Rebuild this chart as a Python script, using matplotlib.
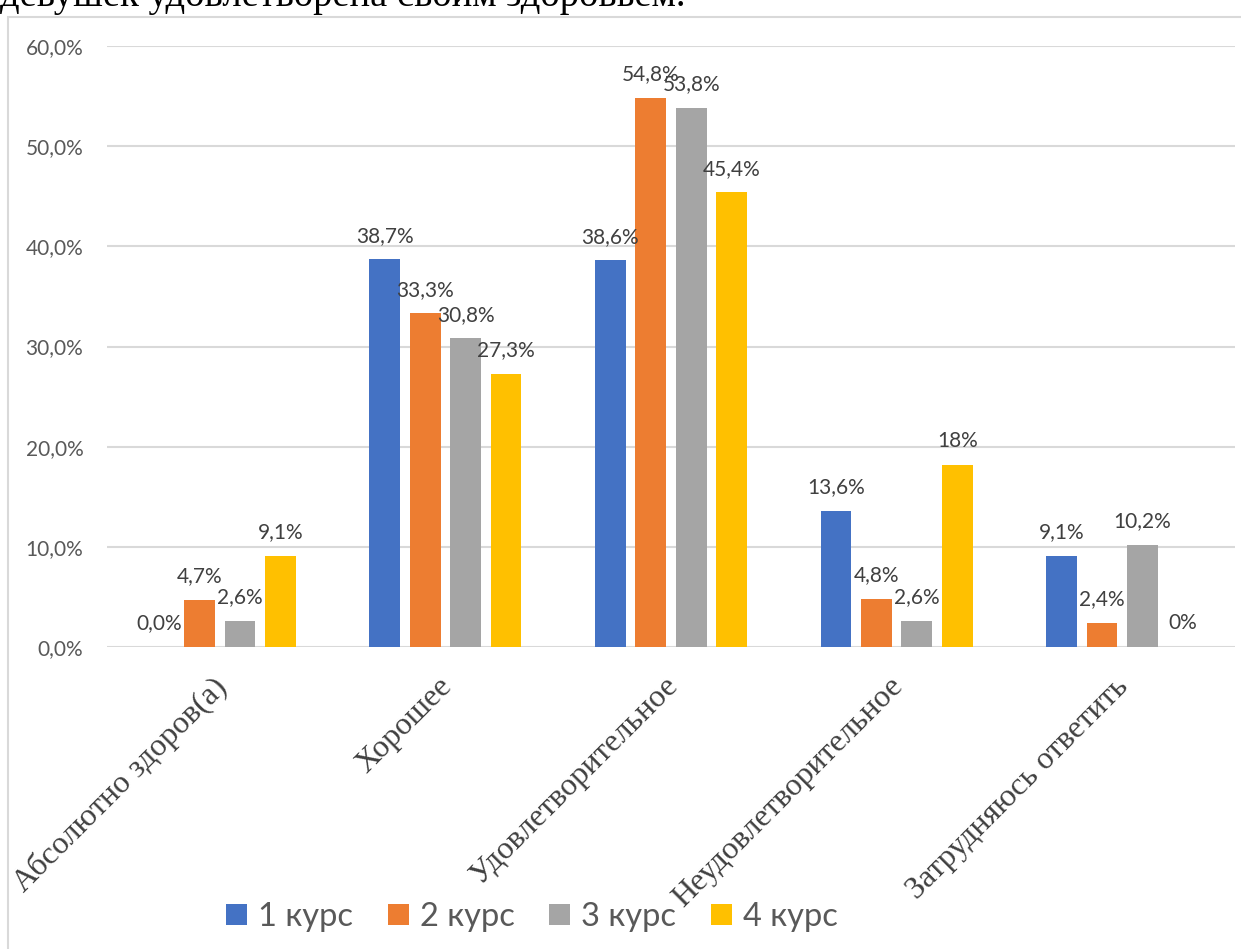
import numpy as np
import matplotlib
matplotlib.use("Agg")
import matplotlib.pyplot as plt
from matplotlib.patches import Rectangle, Patch
from matplotlib.transforms import ScaledTranslation

# ---------------------------
# data
# ---------------------------
categories = ["Абсолютно здоров(а)", "Хорошее", "Удовлетворительное",
              "Неудовлетворительное", "Затрудняюсь ответить"]
series_names = ["1 курс", "2 курс", "3 курс", "4 курс"]
kurs1 = [0.0, 38.7, 38.6, 13.6, 9.1]
kurs2 = [4.7, 33.3, 54.8, 4.8, 2.4]
kurs3 = [2.6, 30.8, 53.8, 2.6, 10.2]
kurs4 = [9.1, 27.3, 45.4, 18.2, 0.0]
labels1 = ["0,0%", "38,7%", "38,6%", "13,6%", "9,1%"]
labels2 = ["4,7%", "33,3%", "54,8%", "4,8%", "2,4%"]
labels3 = ["2,6%", "30,8%", "53,8%", "2,6%", "10,2%"]
labels4 = ["9,1%", "27,3%", "45,4%", "18%", "0%"]
yticks = [0, 10, 20, 30, 40, 50, 60]
ytick_labels = ["0,0%", "10,0%", "20,0%", "30,0%", "40,0%", "50,0%", "60,0%"]
caption = "девушек удовлетворена своим здоровьем."

colors = ["#4472C4", "#ED7D31", "#A5A5A5", "#FFC000"]
values = [kurs1, kurs2, kurs3, kurs4]
labels = [labels1, labels2, labels3, labels4]

W, H = 1241, 949
fig = plt.figure(figsize=(W / 100, H / 100), dpi=100)

# caption line of the document (clipped at the top)
fig.text(0.0, 1 - 6 / H, caption, family="Liberation Serif", fontsize=27.8,
         color="black", ha="left", va="baseline")

# chart area frame
fig.patches.append(Rectangle((8 / W, 0), 1.2, 1 - 17 / H,
                             transform=fig.transFigure, facecolor="white",
                             edgecolor="none", zorder=-1))
fig.patches.append(Rectangle((8 / W, -0.1), 1.2, 1 - 17 / H + 0.1,
                             transform=fig.transFigure, fill=False,
                             edgecolor="#D9D9D9", linewidth=1.5))

ax = fig.add_axes([107 / W, 1 - 647 / H, (1235 - 107) / W, (647 - 46) / H])
ax.set_facecolor("none")

x = np.arange(len(categories))
step = 0.179
width = 0.137
for i in range(4):
    pos = x + (i - 1.5) * step
    ax.bar(pos, values[i], width=width, color=colors[i], zorder=2,
           label=series_names[i])
    for xp, v, lab in zip(pos, values[i], labels[i]):
        ax.annotate(lab, (xp, v), xytext=(0, 17), textcoords="offset points",
                    ha="center", va="center", fontsize=15, family="Lato",
                    color="#404040", zorder=5)

ax.set_xlim(-0.5, len(categories) - 0.5)
ax.set_ylim(0, 60)
ax.set_yticks(yticks)
ax.set_yticklabels(ytick_labels, family="Lato", fontsize=15, color="#595959")
ax.yaxis.grid(True, color="#D9D9D9", linewidth=1.5, zorder=0)
ax.set_axisbelow(True)
ax.tick_params(axis="y", length=0, pad=17)
ax.tick_params(axis="x", length=0, pad=18)
for s in ["top", "right", "left", "bottom"]:
    ax.spines[s].set_visible(False)

ax.set_xticks(x)
ax.set_xticklabels(categories, rotation=45, ha="right", va="top",
                   rotation_mode="anchor", family="Liberation Serif",
                   fontsize=23, color="#404040")
for lbl in ax.get_xticklabels():
    lbl.set_transform(lbl.get_transform() +
                      ScaledTranslation(-8 / 100, 0, fig.dpi_scale_trans))

handles = [Patch(facecolor=c, edgecolor="none") for c in colors]
fig.legend(handles, series_names, loc="center", bbox_to_anchor=(532 / W, 1 - 917 / H),
           ncol=4, frameon=False, prop={"family": "Lato", "size": 23.5},
           labelcolor="#595959", handlelength=0.65, handleheight=0.62,
           handletextpad=0.34, columnspacing=1.05)

fig.savefig("out.png", dpi=100)
